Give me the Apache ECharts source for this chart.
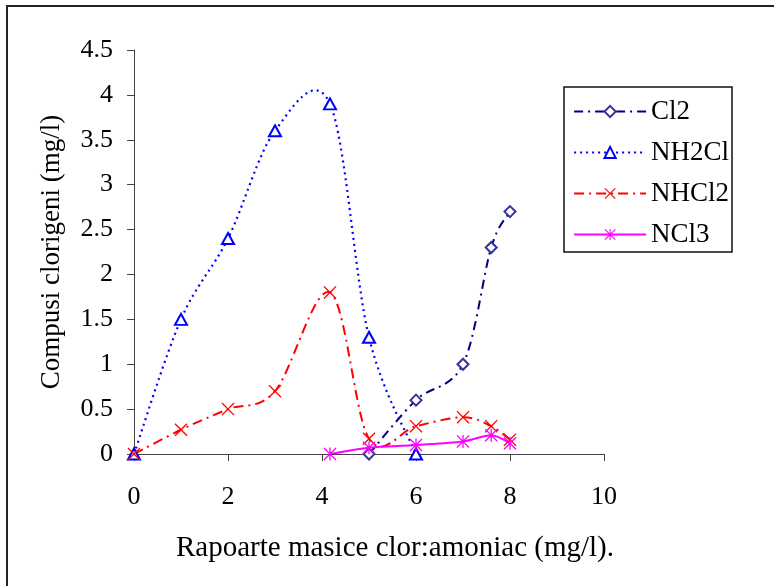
<!DOCTYPE html>
<html><head><meta charset="utf-8">
<script src="https://cdn.jsdelivr.net/npm/echarts@6/dist/echarts.min.js"></script>
<style>html,body{margin:0;padding:0;background:#fff}#c{width:774px;height:586px}</style>
</head><body><div id="c"></div>
<script>
const seriesNames = ['Cl2', 'NH2Cl', 'NHCl2', 'NCl3'];
const cl2X = [5, 6, 7, 7.6, 8];
const cl2Y = [0, 0.6, 1.0, 2.3, 2.7];
const nh2clX = [0, 1, 2, 3, 4.17, 5, 6];
const nh2clY = [0, 1.5, 2.4, 3.6, 3.9, 1.3, 0];
const nhcl2X = [0, 1, 2, 3, 4.17, 5, 6, 7, 7.6, 8];
const nhcl2Y = [0, 0.27, 0.5, 0.7, 1.8, 0.17, 0.31, 0.41, 0.31, 0.16];
const ncl3X = [4.17, 5, 6, 7, 7.6, 8];
const ncl3Y = [0, 0.07, 0.1, 0.14, 0.21, 0.12];
const xTicks = [0, 2, 4, 6, 8, 10];
const yTicks = ['0', '0.5', '1', '1.5', '2', '2.5', '3', '3.5', '4', '4.5'];

const pair = (xs, ys) => xs.map((x, i) => [x, ys[i]]);
const FONT = 'Liberation Serif';
const xPath = 'path://M0,1.4L1.4,0L10,8.6L18.6,0L20,1.4L11.4,10L20,18.6L18.6,20L10,11.4L1.4,20L0,18.6L8.6,10Z';
const starPath = 'path://M9,0L11,0L11,20L9,20Z M0,1.4L1.4,0L20,18.6L18.6,20Z M18.6,0L20,1.4L1.4,20L0,18.6Z';

const styles = [
  {color: '#000080', width: 2, dash: [9, 5, 2, 5], sym: 'emptyDiamond', size: 11, mcolor: '#333399'},
  {color: '#0000FF', width: 2.2, dash: [2, 4], sym: 'emptyTriangle', size: [12, 11], mcolor: '#0000FF'},
  {color: '#FF0000', width: 2, dash: [10, 5, 2, 5], sym: xPath, size: 13, mcolor: '#FF0000'},
  {color: '#FF00FF', width: 2, dash: null, sym: starPath, size: 13, mcolor: '#FF00FF'}
];
const xsAll = [cl2X, nh2clX, nhcl2X, ncl3X];
const ysAll = [cl2Y, nh2clY, nhcl2Y, ncl3Y];

// Catmull-Rom style smoothing (as in spreadsheet smoothed lines), computed in pixel space
function smoothPath(pts) {
  let d = 'M' + pts[0][0] + ',' + pts[0][1];
  for (let i = 0; i < pts.length - 1; i++) {
    const p0 = pts[i - 1] || pts[i], p1 = pts[i], p2 = pts[i + 1], p3 = pts[i + 2] || pts[i + 1];
    const c1 = [p1[0] + (p2[0] - p0[0]) / 6, p1[1] + (p2[1] - p0[1]) / 6];
    const c2 = [p2[0] - (p3[0] - p1[0]) / 6, p2[1] - (p3[1] - p1[1]) / 6];
    d += 'C' + c1[0] + ',' + c1[1] + ',' + c2[0] + ',' + c2[1] + ',' + p2[0] + ',' + p2[1];
  }
  return d;
}

const series = [];
seriesNames.forEach((name, k) => {
  const st = styles[k];
  series.push({
    name: name + '_curve', type: 'custom', coordinateSystem: 'cartesian2d', z: 2, clip: true,
    data: pair(xsAll[k], ysAll[k]), silent: true,
    renderItem: (params, api) => {
      if (params.dataIndex !== 0) return null;
      const pts = xsAll[k].map((x, i) => api.coord([x, ysAll[k][i]]));
      return {type: 'path', shape: {pathData: smoothPath(pts)},
        style: {fill: 'none', stroke: st.color, lineWidth: st.width, lineDash: st.dash}};
    }
  });
  series.push({
    name: name, type: 'line', z: 3, data: pair(xsAll[k], ysAll[k]),
    symbol: st.sym, symbolSize: st.size,
    lineStyle: {color: st.color, width: st.width, type: st.dash || 'solid', opacity: 0},
    itemStyle: {color: st.mcolor, borderWidth: 1.6}
  });
});

const chart = echarts.init(document.getElementById('c'));
chart.setOption({
  animation: false,
  backgroundColor: '#fff',
  grid: {left: 134, right: 170, top: 50, bottom: 132},
  xAxis: {
    type: 'value', min: xTicks[0], max: xTicks[xTicks.length - 1], interval: 2,
    splitLine: {show: false},
    axisLine: {show: true, onZero: false, lineStyle: {color: '#444', width: 1}},
    axisTick: {show: true, length: 7, lineStyle: {color: '#444'}},
    axisLabel: {margin: 30, color: '#000', fontFamily: FONT, fontSize: 26}
  },
  yAxis: {
    type: 'value', min: 0, max: 4.5, interval: 0.5,
    splitLine: {show: false},
    axisLine: {show: true, lineStyle: {color: '#444', width: 1}},
    axisTick: {show: true, length: 7, lineStyle: {color: '#444'}},
    axisLabel: {margin: 21, color: '#000', fontFamily: FONT, fontSize: 26,
      formatter: (v) => yTicks[Math.round(v * 2)]},
    name: 'Compusi clorigeni (mg/l)', nameLocation: 'middle', nameGap: 69,
    nameTextStyle: {color: '#000', fontFamily: FONT, fontSize: 27}
  },
  legend: {
    orient: 'vertical', left: 573, top: 98, itemWidth: 72, itemHeight: 14, itemGap: 14,
    padding: 0,
    data: seriesNames.map((n, k) => ({
      name: n,
      lineStyle: {color: styles[k].color, width: styles[k].width, type: styles[k].dash || 'solid', opacity: 1}
    })),
    textStyle: {color: '#000', fontFamily: FONT, fontSize: 27}
  },
  graphic: [
    {type: 'rect', z: -1, shape: {x: 7, y: 6, width: 800, height: 620},
      style: {fill: 'none', stroke: '#222', lineWidth: 2}},
    {type: 'rect', shape: {x: 564, y: 87, width: 168, height: 165},
      style: {fill: 'none', stroke: '#111', lineWidth: 1.5}},
    {type: 'text', x: 395, y: 548,
      style: {text: 'Rapoarte masice clor:amoniac (mg/l).', fill: '#000',
        font: '29px "Liberation Serif"', textAlign: 'center', textVerticalAlign: 'middle'}}
  ],
  series: series
});
</script></body></html>
